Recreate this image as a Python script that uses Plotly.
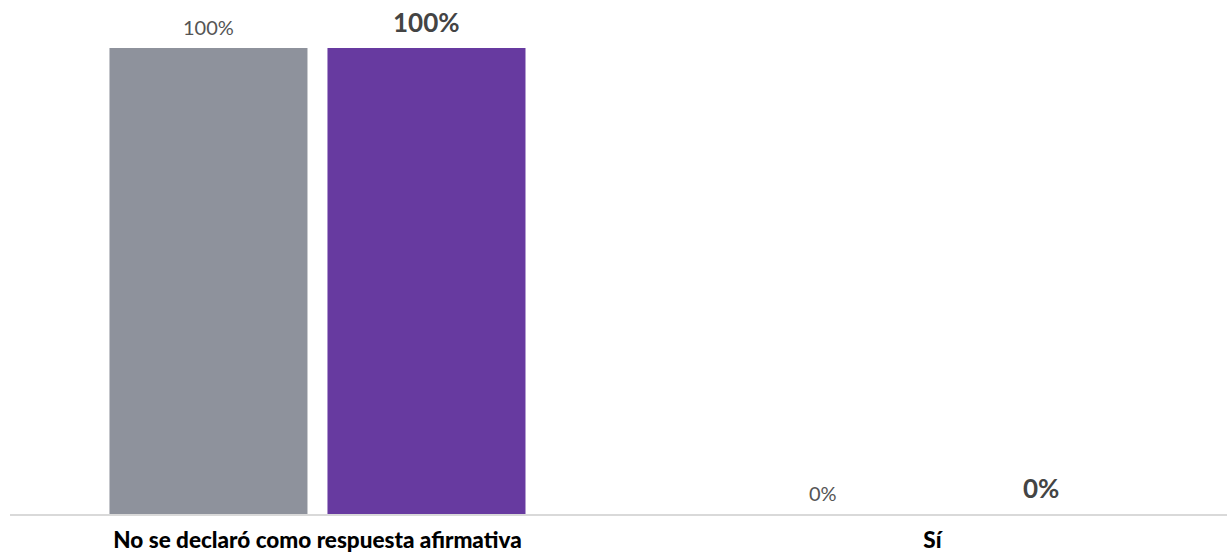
import plotly.graph_objects as go

categories = ["No se declaró como respuesta afirmativa", "Sí"]
series_names = ["Referencia", "Resultado"]
gray_values = [100, 0]
purple_values = [100, 0]

bargap = 0.291
bargroupgap = 0.0917
slot = (1 - bargap) / 2

x_idx = list(range(len(categories)))

fig = go.Figure()
fig.add_trace(go.Bar(x=x_idx, y=gray_values, name=series_names[0],
                     marker=dict(color="#8E929C", line=dict(width=0))))
fig.add_trace(go.Bar(x=x_idx, y=purple_values, name=series_names[1],
                     marker=dict(color="#673AA0", line=dict(width=0))))

annotations = []
for i, v in enumerate(gray_values):
    annotations.append(dict(x=i - slot / 2, y=v, xref="x", yref="y", text=f"{v}%",
                            showarrow=False, yanchor="bottom", yshift=7,
                            font=dict(family="Lato", size=20, color="#555555")))
for i, v in enumerate(purple_values):
    annotations.append(dict(x=i + slot / 2, y=v, xref="x", yref="y", text=f"{v}%",
                            showarrow=False, yanchor="bottom", yshift=8,
                            font=dict(family="Lato", size=26, color="#444444", weight="bold")))

fig.update_layout(
    width=1227, height=556,
    margin=dict(l=10, r=0, t=48, b=42),
    paper_bgcolor="white", plot_bgcolor="white",
    barmode="group", bargap=bargap, bargroupgap=bargroupgap,
    showlegend=False,
    annotations=annotations,
    font=dict(family="Lato"),
)
fig.update_xaxes(range=[-0.5, 1.479], tickvals=x_idx, ticktext=categories,
                 showline=True, linecolor="#D9D9D9", linewidth=2,
                 showgrid=False, zeroline=False, ticks="",
                 ticklabelstandoff=5, automargin=False,
                 tickfont=dict(family="Lato", size=22.5, color="#000000", weight=900))
fig.update_yaxes(range=[0, 100], visible=False, showgrid=False, zeroline=False)

fig.write_html("out.html",
               config={"displayModeBar": False},
               post_script="document.body.style.margin='0';document.body.style.overflow='hidden';")
